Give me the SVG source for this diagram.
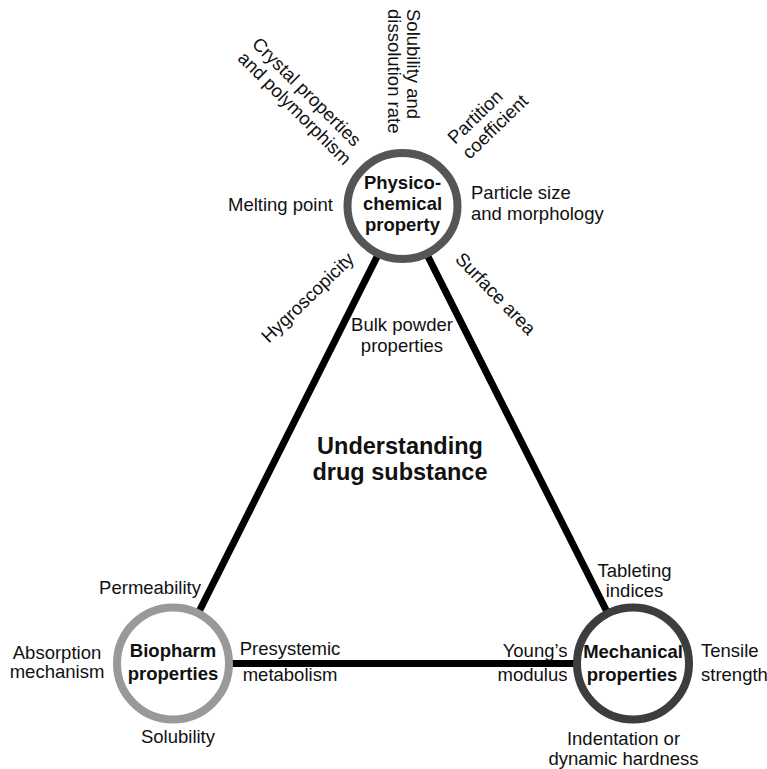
<svg xmlns="http://www.w3.org/2000/svg" width="767" height="769" viewBox="0 0 767 769">
<style>
text{font-family:"Liberation Sans",Arial,Helvetica,sans-serif;font-size:18.5px;fill:#111}
.b{font-weight:bold}
.t{font-weight:bold;font-size:23.5px}
.m{text-anchor:middle}
.e{text-anchor:end}
.edge{stroke:#000;stroke-width:7;fill:none}
.node{fill:#fff;stroke-width:8}
</style>
<rect width="767" height="769" fill="#fff"/>
<g id="connectors">
<line class="edge" x1="402.5" y1="206" x2="173" y2="663.5"/>
<line class="edge" x1="402.5" y1="206" x2="633" y2="663.5"/>
<line class="edge" x1="173" y1="663.5" x2="633" y2="663.5"/>
</g>
<g id="physico">
<ellipse class="node" cx="402.5" cy="206" rx="55" ry="53" stroke="#555"/>
<text class="b m" x="402.5" y="188.5">Physico-</text>
<text class="b m" x="402.5" y="209.8">chemical</text>
<text class="b m" x="402.5" y="231">property</text>
</g>
<g id="biopharm">
<circle class="node" cx="173" cy="663.5" r="56" stroke="#999"/>
<text class="b m" x="173" y="657">Biopharm</text>
<text class="b m" x="173" y="680">properties</text>
</g>
<g id="mechanical">
<circle class="node" cx="633" cy="663.5" r="56" stroke="#3d3d3d"/>
<text class="b m" x="633" y="657.5">Mechanical</text>
<text class="b m" x="632" y="680.5">properties</text>
</g>
<g id="title">
<text class="t m" x="400" y="454">Understanding</text>
<text class="t m" x="400" y="480">drug substance</text>
</g>
<g id="labels">
<text transform="translate(407,9) rotate(90)"><tspan x="0" y="0">Solubility and</tspan><tspan x="0" y="19">dissolution rate</tspan></text>
<text transform="translate(251,45) rotate(45)"><tspan x="0" y="0">Crystal properties</tspan><tspan x="0" y="20">and polymorphism</tspan></text>
<text transform="translate(455,145) rotate(-44)"><tspan x="0" y="0">Partition</tspan><tspan x="0" y="21">coefficient</tspan></text>
<text x="228" y="210.5">Melting point</text>
<text x="471" y="199">Particle size</text>
<text x="471" y="219.5">and morphology</text>
<text class="m" transform="translate(312,302) rotate(-44)">Hygroscopicity</text>
<text class="m" transform="translate(491,298) rotate(46)">Surface area</text>
<text class="m" x="402" y="330.5">Bulk powder</text>
<text class="m" x="402" y="352">properties</text>
<text class="m" x="150" y="594">Permeability</text>
<text class="m" x="57" y="659">Absorption</text>
<text class="m" x="57" y="678">mechanism</text>
<text class="m" x="178" y="743">Solubility</text>
<text class="m" x="290" y="655">Presystemic</text>
<text class="m" x="290" y="681">metabolism</text>
<text class="m" x="634.5" y="577">Tableting</text>
<text class="m" x="634.5" y="597">indices</text>
<text class="e" x="567.5" y="656.7">Young’s</text>
<text class="e" x="567.5" y="680.7">modulus</text>
<text x="701" y="657">Tensile</text>
<text x="701" y="680.5">strength</text>
<text class="m" x="623.5" y="745">Indentation or</text>
<text class="m" x="623.5" y="764.5">dynamic hardness</text>
</g>
</svg>
